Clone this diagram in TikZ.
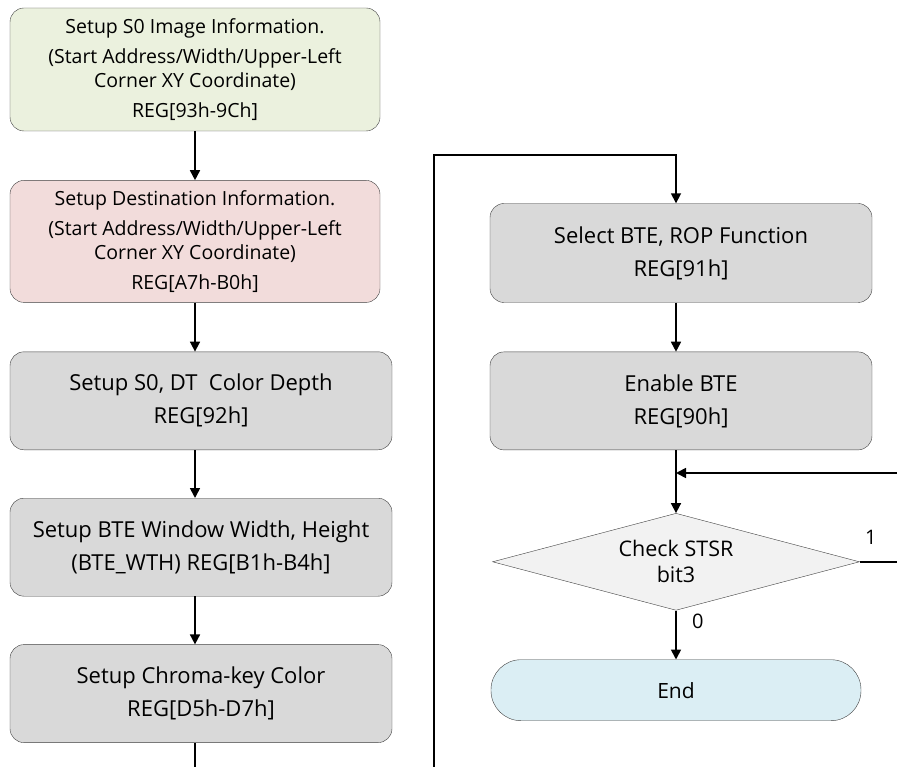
\documentclass[tikz,border=0pt]{standalone}
\usepackage{fontspec}
\setmainfont{Open Sans}
\usepackage{tikz}
\usetikzlibrary{arrows.meta,positioning,shapes.geometric}
\usepackage{xcolor}
\definecolor{BTEline}{RGB}{64,64,64}
\definecolor{BTEgreen}{RGB}{235,241,222}
\definecolor{BTEpink}{RGB}{242,220,219}
\definecolor{BTEgray}{RGB}{217,217,217}
\definecolor{BTElight}{RGB}{242,242,242}
\definecolor{BTEblue}{RGB}{219,238,244}

\begin{document}
\begin{tikzpicture}[x=1pt, y=-1pt, every node/.style={font=\fontsize{22}{33}\selectfont, text=black}, stp/.style={draw=BTEline, fill=BTEgray, rounded corners=14pt, minimum width=382pt, minimum height=98pt, align=center, inner sep=0pt}, info/.style={stp, minimum width=370pt, font=\fontsize{19.5}{24}\selectfont}, chkbox/.style={diamond, draw=BTEline, fill=BTElight, aspect=3.8, minimum width=367pt, minimum height=97pt, inner sep=0pt, align=center, font=\fontsize{21.5}{26}\selectfont}, endbox/.style={draw=BTEline, fill=BTEblue, rounded corners=30pt, minimum width=370pt, minimum height=61pt, inner sep=0pt}, arr/.style={-{Triangle[length=10pt,width=10pt]}, line width=1.7pt}]
\useasboundingbox (0,0) rectangle (897,767);
% left column
\node[info,fill=BTEgreen,minimum height=123pt] (b1) at (195,69.5) {Setup S0 Image Information.\\[6pt](Start Address/Width/Upper-Left\\Corner XY Coordinate)\\[6pt]REG[93h-9Ch]};
\node[info,fill=BTEpink,minimum height=122pt,below=49pt of b1] (b2) {Setup Destination Information.\\[6pt](Start Address/Width/Upper-Left\\Corner XY Coordinate)\\[6pt]REG[A7h-B0h]};
\node[stp,below=49pt of b2,xshift=6pt] (b3) {Setup S0, DT\ \ Color Depth\\REG[92h]};
\node[stp,below=48pt of b3] (b4) {Setup BTE Window Width, Height\\(BTE\_WTH) REG[B1h-B4h]};
\node[stp,below=48pt of b4] (b5) {Setup Chroma-key Color\\REG[D5h-D7h]};
% right column
\node[stp,minimum height=99pt] (b6) at (681,253) {Select BTE, ROP Function\\REG[91h]};
\node[stp,below=49pt of b6] (b7) {Enable BTE\\REG[90h]};
\node[chkbox,below=63pt of b7,xshift=-5pt] (chk) {Check STSR\\bit3};
\node[endbox,below=49pt of chk,font=\fontsize{21}{26}\selectfont] (fin) {End};
% loose ends
\coordinate (btm) at (195,767);
\coordinate (lpb) at (434,767);
\coordinate (lpt) at (434,155);
\coordinate (fbr) at (897,473);
\draw[arr] (b1) -- (b2);
\draw[arr] (b2) -- (b2.south |- b3.north);
\draw[arr] (b3.south -| b2) -- (b4.north -| b2);
\draw[arr] (b4.south -| b2) -- (b5.north -| b2);
\draw[line width=1.7pt] (b5.south -| b2) -- (btm);
\draw[arr] (lpb) -- (lpt) -| (b6.north -| chk);
\draw[arr] (b6.south -| chk) -- (b7.north -| chk);
\draw[arr] (b7.south -| chk) -- (chk);
\draw[arr] (fbr) -- (chk |- fbr);
\draw[line width=1.7pt] (chk.east) -- (chk.east -| fbr) node[pos=0.3,above=13pt,font=\fontsize{20}{22}\selectfont] (one) {1};
\draw[arr] (chk) -- (fin) node[pos=0.22,right=12pt,font=\fontsize{20}{22}\selectfont] (zero) {0};
\end{tikzpicture}
\end{document}
